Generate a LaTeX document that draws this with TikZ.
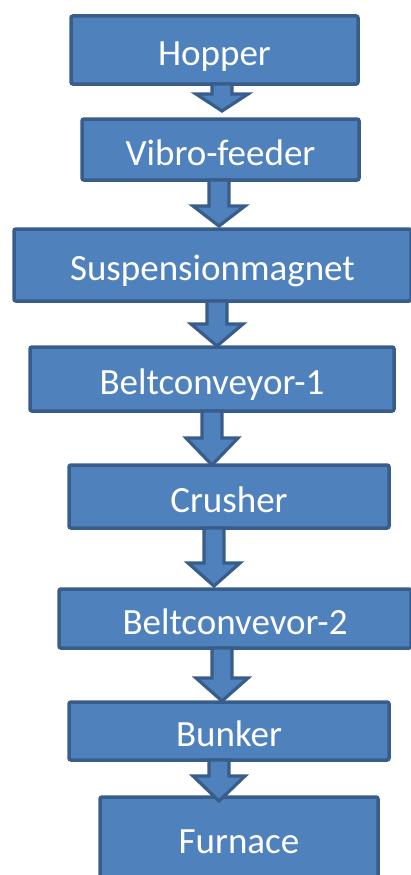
\documentclass[tikz,border=0pt]{standalone}
\usepackage{fontspec}
\setmainfont{Carlito}
\usetikzlibrary{calc}
\definecolor{boxblue}{HTML}{4F81BD}
\definecolor{boxedge}{HTML}{385D8A}

% block arrow: source, target, x position, head length, tip offset
\newcommand{\flowarrow}[5]{%
  \draw[flow] let \p1=(#1.south), \p2=(#2.north) in
    ({#3-10},\y1) -- ({#3-10},{\y2-(#5)+#4}) -- ({#3-26},{\y2-(#5)+#4})
    -- ({#3},{\y2-(#5)}) -- ({#3+26},{\y2-(#5)+#4}) -- ({#3+10},{\y2-(#5)+#4})
    -- ({#3+10},\y1) -- cycle;}

\begin{document}
\begin{tikzpicture}[
    x=1pt, y=1pt,
    stage/.style={draw=boxedge, fill=boxblue, line width=3.5pt, rounded corners=2pt,
      text=white, font=\fontsize{37}{41}\selectfont, text height=31pt, text depth=0pt,
      inner sep=0pt, outer sep=0pt},
    flow/.style={draw=boxedge, fill=boxblue, line width=3.2pt, line join=miter}
  ]
    \useasboundingbox (0,0) rectangle (411,-875);

    \node[stage, minimum width=287pt, minimum height=68pt] (hopper) at (214.5,-50) {Hopper};
    \node[stage, minimum width=277pt, minimum height=61pt] (vibro) at (220.5,-149.5) {Vibro-feeder};
    \node[stage, minimum width=397pt, minimum height=72pt] (magnet) at (212.5,-265) {Suspensionmagnet};
    \node[stage, minimum width=364pt, minimum height=64pt] (belt1) at (212,-379) {Beltconveyor-1};
    \node[stage, minimum width=320pt, minimum height=63pt] (crusher) at (229,-496.5) {Crusher};
    \node[stage, minimum width=352pt, minimum height=59pt] (belt2) at (235,-618.5) {Beltconvevor-2};
    \node[stage, minimum width=320pt, minimum height=58pt] (bunker) at (229,-731) {Bunker};
    \node[stage, minimum width=278pt, minimum height=81pt] (furnace) at (239,-837.5) {Furnace};

    \flowarrow{hopper}{vibro}{222}{17}{-8}
    \flowarrow{vibro}{magnet}{219}{20}{-3}
    \flowarrow{magnet}{belt1}{217}{22}{-1}
    \flowarrow{belt1}{crusher}{212}{27}{0}
    \flowarrow{crusher}{belt2}{214}{23}{-3}
    \flowarrow{belt2}{bunker}{222}{23}{-1}
    \flowarrow{bunker}{furnace}{219}{25}{4}
  \end{tikzpicture}
\end{document}
